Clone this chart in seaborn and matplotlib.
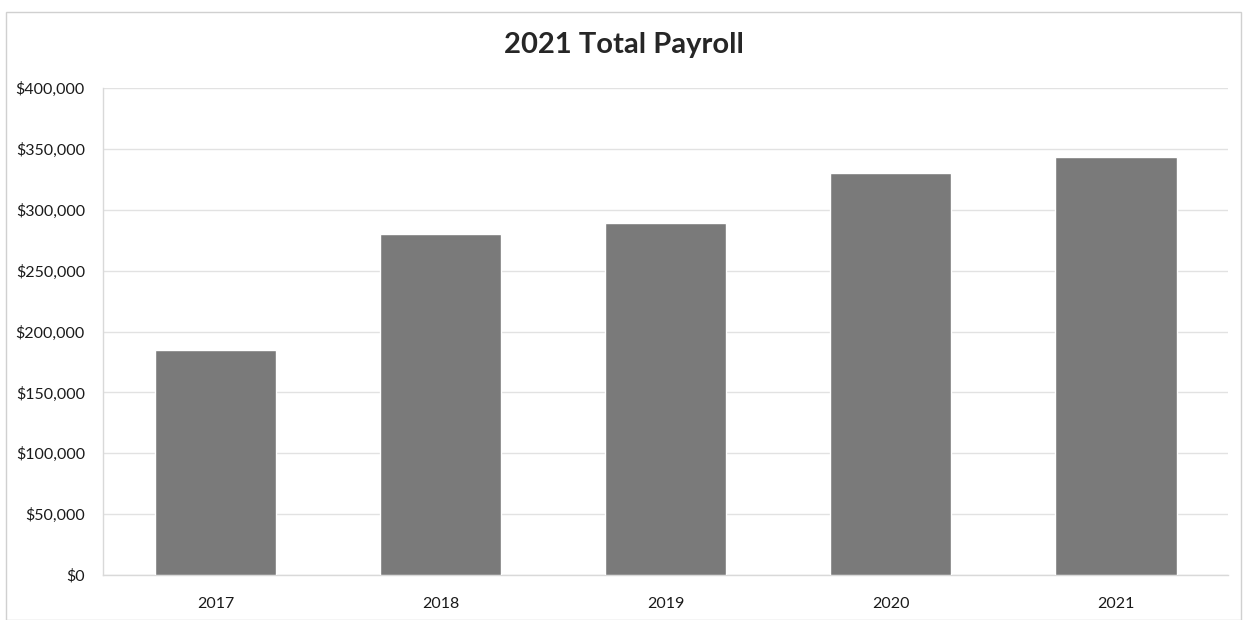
import matplotlib
matplotlib.use("Agg")
import matplotlib.pyplot as plt
import matplotlib.ticker as mticker
from matplotlib.patches import Rectangle
import seaborn as sns
import pandas as pd

years = ["2017", "2018", "2019", "2020", "2021"]
payroll = [185000, 280000, 289000, 330000, 343000]
y_ticks = [0, 50000, 100000, 150000, 200000, 250000, 300000, 350000, 400000]

sns.set_theme(style="white")
plt.rcParams["font.family"] = ["Lato", "DejaVu Sans"]

df = pd.DataFrame({"year": years, "payroll": payroll})

fig = plt.figure(figsize=(12.47, 6.2), dpi=100)
ax = fig.add_axes([0.0826, 0.0726, 0.9024, 0.7854])

sns.barplot(data=df, x="year", y="payroll", color="#7a7a7a", width=0.54,
            saturation=1, ax=ax, zorder=3)

ax.set_ylim(0, 400000)
ax.set_yticks(y_ticks)
ax.yaxis.set_major_formatter(mticker.FuncFormatter(lambda v, p: f"${v:,.0f}"))
ax.set_xlabel("")
ax.set_ylabel("")
ax.grid(axis="y", color="#e2e2e2", linewidth=1, zorder=0)
ax.tick_params(axis="y", labelsize=11.5, length=0, pad=13)
ax.tick_params(axis="x", labelsize=11.5, length=0, pad=16)
for lbl in ax.get_xticklabels() + ax.get_yticklabels():
    lbl.set_color("#1a1a1a")

for side in ("top", "right"):
    ax.spines[side].set_visible(False)
ax.spines["left"].set_color("#d9d9d9")
ax.spines["bottom"].set_color("#d9d9d9")
ax.spines["left"].set_linewidth(1)
ax.spines["bottom"].set_linewidth(1)

fig.text(0.5, 0.927, "2021 Total Payroll", ha="center", va="center",
         fontsize=21, fontweight="bold", color="#262626")

# light frame around the whole chart
fig.patches.append(Rectangle((0.005, 0.0), 0.99, 0.98, transform=fig.transFigure,
                             fill=False, edgecolor="#d0d0d0", linewidth=1))

fig.savefig("out.png", dpi=100, facecolor="white")
